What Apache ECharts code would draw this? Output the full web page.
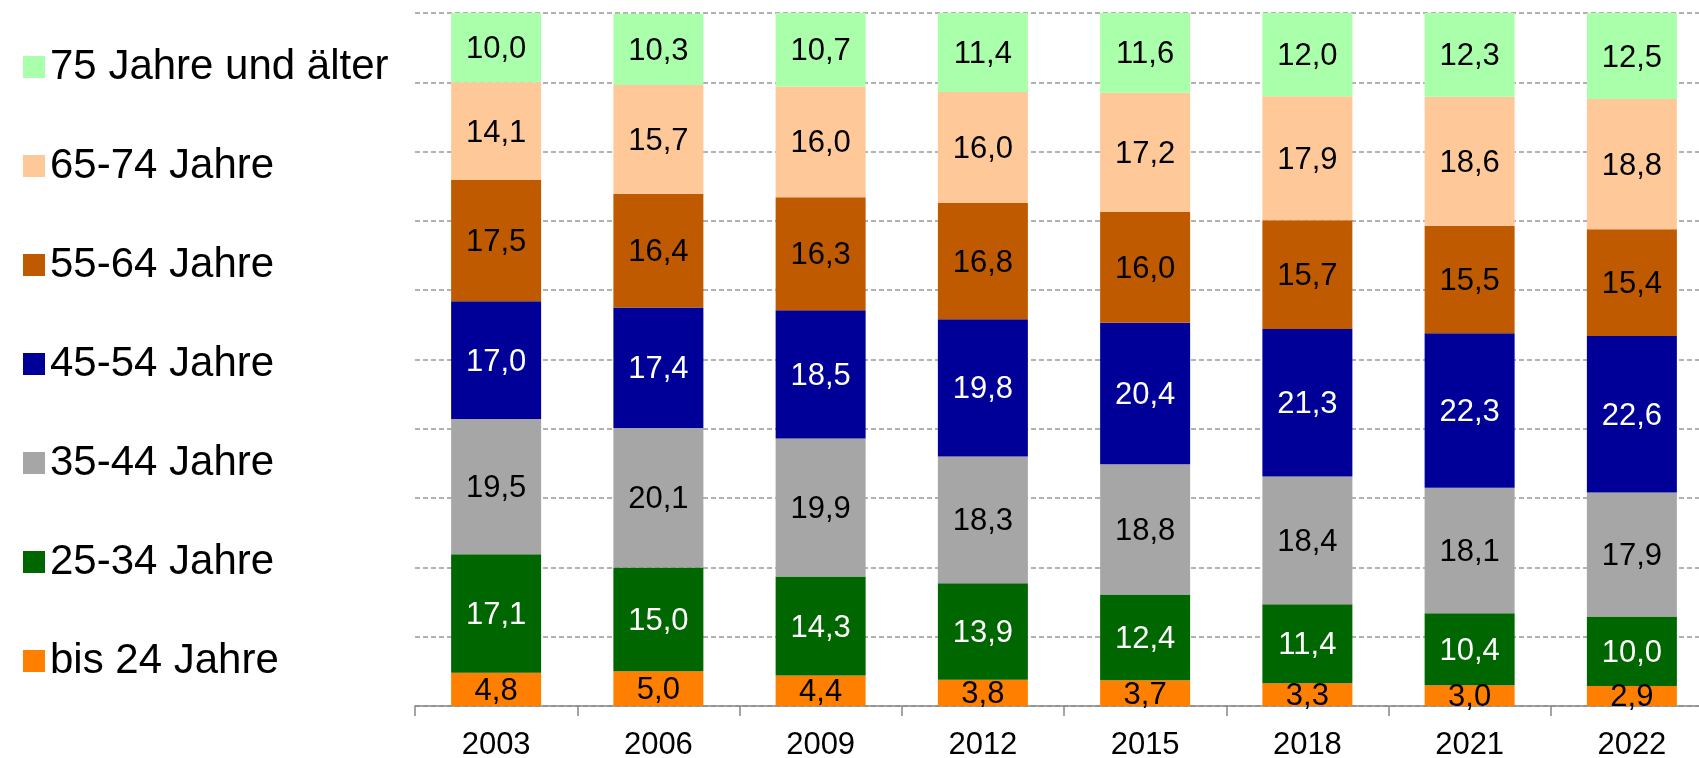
<!DOCTYPE html>
<html>
<head>
<meta charset="utf-8">
<script src="https://cdn.jsdelivr.net/npm/echarts@6/dist/echarts.min.js"></script>
<style>
  html, body { margin: 0; padding: 0; background: #fff; }
  #chart { width: 1699px; height: 758px; }
</style>
</head>
<body>
<div id="chart"></div>
<script>
// Survey years on the x-axis
const years = ['2003', '2006', '2009', '2012', '2015', '2018', '2021', '2022'];

// Shares (in %) of each age group per year, stacked bottom to top
const ageUnder25 = [4.8, 5.0, 4.4, 3.8, 3.7, 3.3, 3.0, 2.9];
const age25to34 = [17.1, 15.0, 14.3, 13.9, 12.4, 11.4, 10.4, 10.0];
const age35to44 = [19.5, 20.1, 19.9, 18.3, 18.8, 18.4, 18.1, 17.9];
const age45to54 = [17.0, 17.4, 18.5, 19.8, 20.4, 21.3, 22.3, 22.6];
const age55to64 = [17.5, 16.4, 16.3, 16.8, 16.0, 15.7, 15.5, 15.4];
const age65to74 = [14.1, 15.7, 16.0, 16.0, 17.2, 17.9, 18.6, 18.8];
const age75plus = [10.0, 10.3, 10.7, 11.4, 11.6, 12.0, 12.3, 12.5];

const groupNames = ['bis 24 Jahre', '25-34 Jahre', '35-44 Jahre', '45-54 Jahre',
                    '55-64 Jahre', '65-74 Jahre', '75 Jahre und älter'];
const groupValues = [ageUnder25, age25to34, age35to44, age45to54, age55to64, age65to74, age75plus];
const groupColors = ['#FF7F00', '#006600', '#A6A6A6', '#000099', '#C05A00', '#FFC899', '#AAFFAA'];
const labelColors = ['#000', '#fff', '#000', '#fff', '#000', '#000', '#000'];

const FONT = '"Liberation Sans", Arial, sans-serif';

const fmt = v => v.toFixed(1).replace('.', ',');

const series = groupNames.map((name, i) => ({
  name: name,
  type: 'bar',
  stack: 'total',
  barWidth: 90,
  data: groupValues[i],
  itemStyle: { color: groupColors[i] },
  label: {
    show: true,
    position: 'inside',
    offset: [0, 2],
    fontFamily: FONT,
    fontSize: 31,
    color: labelColors[i],
    formatter: p => fmt(p.value)
  },
  emphasis: { disabled: true }
}));

const chart = echarts.init(document.getElementById('chart'), null, { renderer: 'canvas' });
chart.setOption({
  animation: false,
  backgroundColor: '#fff',
  grid: {
    left: 415, right: -14, top: 13, bottom: 52,
    containLabel: false,
    outerBoundsMode: 'none'
  },
  legend: {
    orient: 'vertical',
    left: 18,
    top: 41,
    icon: 'rect',
    itemWidth: 22,
    itemHeight: 22,
    itemGap: 57,
    data: groupNames.slice().reverse(),
    textStyle: {
      fontFamily: FONT,
      fontSize: 42,
      lineHeight: 42,
      color: '#000'
    },
    selectedMode: false
  },
  xAxis: {
    type: 'category',
    data: years,
    boundaryGap: true,
    axisLine: { show: true, lineStyle: { color: '#888', width: 1.5 } },
    axisTick: { show: true, length: 10, lineStyle: { color: '#888', width: 1.5 } },
    axisLabel: { fontFamily: FONT, fontSize: 31, color: '#000', margin: 24 },
    splitLine: { show: false }
  },
  yAxis: {
    type: 'value',
    min: 0,
    max: 100,
    interval: 10,
    axisLine: { show: false },
    axisTick: { show: false },
    axisLabel: { show: false },
    splitLine: { show: true, lineStyle: { color: '#999', width: 1.5, type: [5, 3] } }
  },
  series: series
});
</script>
</body>
</html>
